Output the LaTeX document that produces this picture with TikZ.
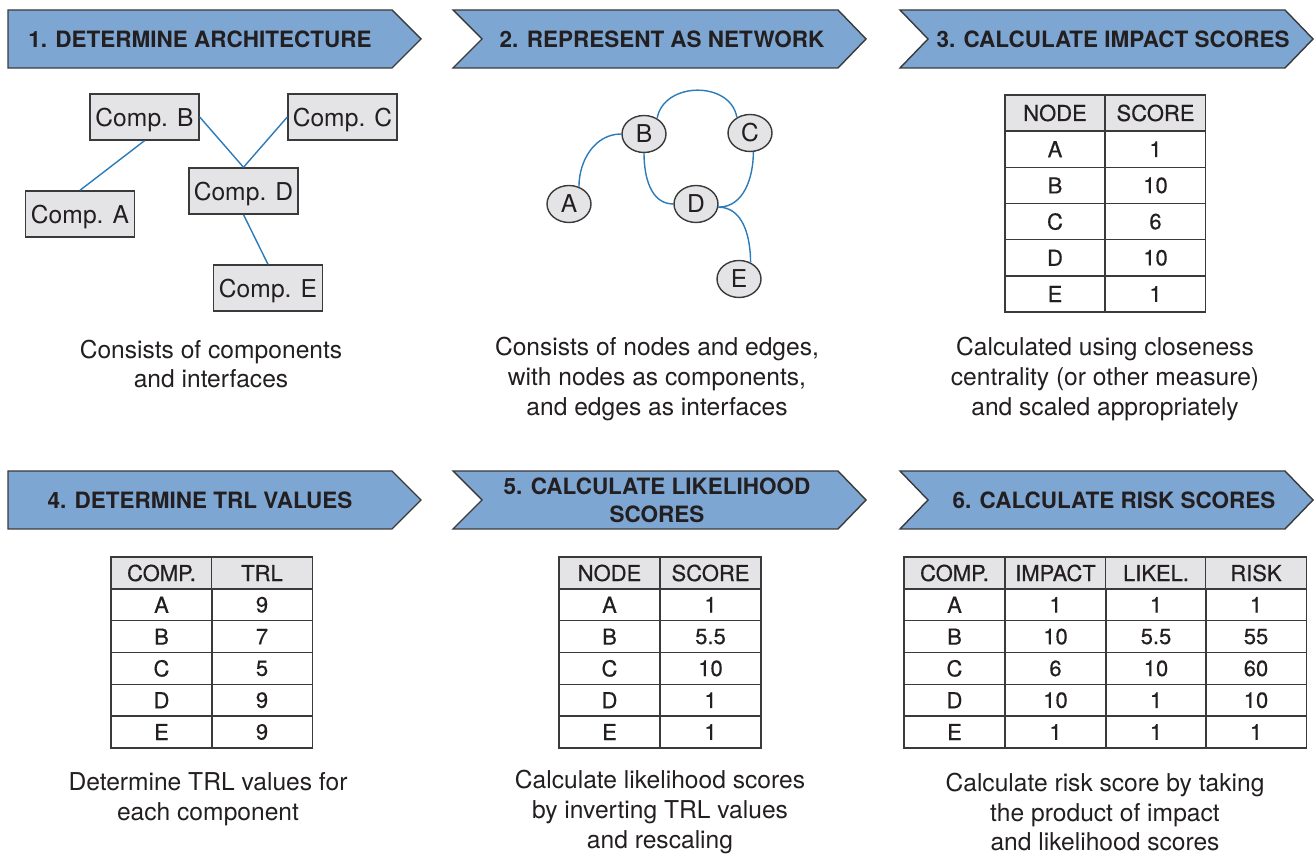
\documentclass[tikz,border=0pt]{standalone}
\usepackage{fontspec}
\setmainfont{TeX Gyre Heros}
\newfontfamily\cellfont[FakeBold=0.5]{TeX Gyre Heros}
\usetikzlibrary{shapes.geometric}

\definecolor{stepblue}{HTML}{7EA6D2}
\definecolor{boxgray}{HTML}{E4E4E6}
\definecolor{linkblue}{HTML}{2B7BBA}
\definecolor{rimgray}{HTML}{3A3A3A}
\definecolor{inkgray}{HTML}{231F20}

\tikzset{
  head/.style={draw=rimgray, fill=stepblue, line width=0.8pt},
  headtext/.style={font=\fontsize{12.8}{16}\selectfont\bfseries, text=inkgray, align=center},
  comp/.style={draw=rimgray, fill=boxgray, line width=0.8pt, minimum width=2.18cm, minimum height=0.92cm, inner sep=0pt, text depth=0pt, text=inkgray, font=\fontsize{14}{16}\selectfont},
  vertex/.style={ellipse, draw=rimgray, fill=boxgray, line width=0.8pt, minimum width=0.88cm, minimum height=0.74cm, inner sep=0pt, text=inkgray, font=\fontsize{14}{16}\selectfont},
  link/.style={draw=linkblue, line width=0.8pt},
  caption/.style={align=center, text=inkgray, font=\fontsize{14}{17}\selectfont},
  cell/.style={draw=rimgray, line width=0.7pt, minimum width=2.02cm, minimum height=0.636cm, inner sep=0pt, text=inkgray, font=\cellfont\fontsize{12.5}{14}\selectfont},
  hcell/.style={cell, fill=boxgray},
}

\begin{document}
\begin{tikzpicture}[x=0.02cm, y=0.02cm]
  \useasboundingbox (0,0) rectangle (1315,-854);

  % step banners
  \draw[head] (8,-10) -- (392,-10) -- (421,-39) -- (392,-68) -- (8,-68) -- cycle;
  \node[headtext] (head1) at (200,-39) {1. DETERMINE ARCHITECTURE};
  \draw[head] (453,-10) -- (838,-10) -- (866,-39) -- (838,-68) -- (453,-68) -- (482,-39) -- cycle;
  \node[headtext] (head2) at (662,-39) {2. REPRESENT AS NETWORK};
  \draw[head] (900,-10) -- (1285,-10) -- (1313,-39) -- (1285,-68) -- (900,-68) -- (928,-39) -- cycle;
  \node[headtext] (head3) at (1113,-39) {3. CALCULATE IMPACT SCORES};
  \draw[head] (8,-471) -- (392,-471) -- (421,-500) -- (392,-529) -- (8,-529) -- cycle;
  \node[headtext] (head4) at (200,-500) {4. DETERMINE TRL VALUES};
  \draw[head] (453,-471) -- (838,-471) -- (866,-500) -- (838,-529) -- (453,-529) -- (482,-500) -- cycle;
  \node[headtext] (head5) at (657,-500) {5. CALCULATE LIKELIHOOD\\SCORES};
  \draw[head] (900,-471) -- (1285,-471) -- (1313,-500) -- (1285,-529) -- (900,-529) -- (928,-500) -- cycle;
  \node[headtext] (head6) at (1114,-500) {6. CALCULATE RISK SCORES};

  % architecture
  \node[comp] (compB) at (144.5,-117) {Comp. B};
  \node[comp] (compC) at (342.5,-117) {Comp. C};
  \node[comp] (compD) at (243.5,-191) {Comp. D};
  \node[comp] (compA) at (80,-214) {Comp. A};
  \node[comp] (compE) at (268,-288) {Comp. E};
  \draw[link] (compA.north) -- (compB.south);
  \draw[link] (compB.east) -- (compD.north);
  \draw[link] (compC.west) -- (compD.north);
  \draw[link] (compD.south) -- (compE.north);

  % network
  \node[vertex] (vB) at (644,-134) {B};
  \node[vertex] (vC) at (750,-133) {C};
  \node[vertex] (vA) at (569,-204) {A};
  \node[vertex] (vD) at (696,-204) {D};
  \node[vertex] (vE) at (739,-279) {E};
  \draw[link] (vA.60) to[out=90, in=180] (vB.west);
  \draw[link] (vB.50) to[out=80, in=100, looseness=1.2] (vC.130);
  \draw[link] (vB.south) to[out=-90, in=180] (vD.west);
  \draw[link] (vC.-80) to[out=-90, in=0] (vD.-8);
  \draw[link] (vD.-8) to[out=0, in=90] (vE.55);

  % impact table
  \node[hcell, minimum width=2cm, minimum height=0.724cm] (imp-0-1) at (1055,-113) {NODE};
  \node[hcell, minimum width=2cm, minimum height=0.724cm] (imp-0-2) at (1155.5,-113) {SCORE};
  \foreach \n/\s [count=\i] in {A/1, B/10, C/6, D/10, E/1} {
    \node[cell, minimum width=2cm, minimum height=0.724cm] (imp-\i-1) at (1055,{-113-36.2*\i}) {\n};
    \node[cell, minimum width=2cm, minimum height=0.724cm] (imp-\i-2) at (1155.5,{-113-36.2*\i}) {\s};
  }

  % TRL table
  \node[hcell] (trl-0-1) at (161.5,-573) {COMP.};
  \node[hcell] (trl-0-2) at (262,-573) {TRL};
  \foreach \n/\s [count=\i] in {A/9, B/7, C/5, D/9, E/9} {
    \node[cell] (trl-\i-1) at (161.5,{-573-31.8*\i}) {\n};
    \node[cell] (trl-\i-2) at (262,{-573-31.8*\i}) {\s};
  }

  % likelihood table
  \node[hcell] (lik-0-1) at (609.5,-573) {NODE};
  \node[hcell] (lik-0-2) at (710.5,-573) {SCORE};
  \foreach \n/\s [count=\i] in {A/1, B/5.5, C/10, D/1, E/1} {
    \node[cell] (lik-\i-1) at (609.5,{-573-31.8*\i}) {\n};
    \node[cell] (lik-\i-2) at (710.5,{-573-31.8*\i}) {\s};
  }

  % risk table
  \node[hcell] (risk-0-1) at (954.5,-573) {COMP.};
  \node[hcell] (risk-0-2) at (1055.5,-573) {IMPACT};
  \node[hcell] (risk-0-3) at (1156,-573) {LIKEL.};
  \node[hcell] (risk-0-4) at (1256,-573) {RISK};
  \foreach \n/\p/\l/\r [count=\i] in {A/1/1/1, B/10/5.5/55, C/6/10/60, D/10/1/10, E/1/1/1} {
    \node[cell] (risk-\i-1) at (954.5,{-573-31.8*\i}) {\n};
    \node[cell] (risk-\i-2) at (1055.5,{-573-31.8*\i}) {\p};
    \node[cell] (risk-\i-3) at (1156,{-573-31.8*\i}) {\l};
    \node[cell] (risk-\i-4) at (1256,{-573-31.8*\i}) {\r};
  }

  % captions
  \node[caption] (cap1) at (211,-364) {Consists of components\\and interfaces};
  \node[caption] (cap2) at (657,-379) {Consists of nodes and edges,\\with nodes as components,\\and edges as interfaces};
  \node[caption] (cap3) at (1105,-379) {Calculated using closeness\\centrality (or other measure)\\and scaled appropriately};
  \node[caption] (cap4) at (208,-799) {Determine TRL values for\\each component};
  \node[caption] (cap5) at (660,-812) {Calculate likelihood scores\\by inverting TRL values\\and rescaling};
  \node[caption] (cap6) at (1105,-812) {Calculate risk score by taking\\the product of impact\\and likelihood scores};
\end{tikzpicture}
\end{document}
